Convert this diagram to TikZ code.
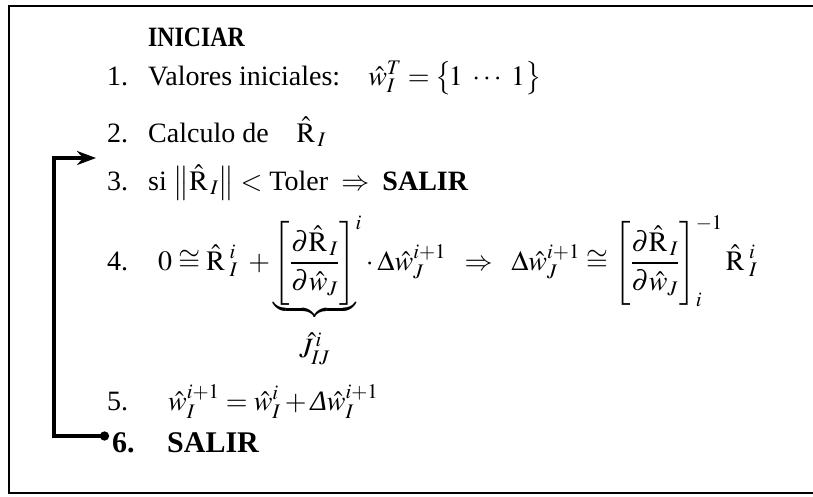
\documentclass[tikz,border=0pt]{standalone}
\usepackage{amsmath}
\usepackage{mathptmx}
\usepackage[no-math]{fontspec}
\setmainfont{Liberation Serif}
\newfontfamily\narrowbf{Liberation Serif}[FakeStretch=0.85]
\usetikzlibrary{arrows.meta}

\newcommand{\hR}{\hat{\mathrm{R}}}
\newcommand{\hw}{\hat{w}}
\newcommand{\stepno}[1]{\makebox[41pt][l]{#1}}

\begin{document}
\begin{tikzpicture}[
                x=1pt, y=-1pt,
                stepline/.style={anchor=base west, inner sep=0pt, font=\fontsize{28}{34}\selectfont},
                frame/.style={line width=2.5pt},
                loopback/.style={line width=4pt}
            ]
            \useasboundingbox (0,0) rectangle (813,496);
            % Frame (open on the right)
            \draw[frame] (813,6) -- (9,6) -- (9,493) -- (813,493);

            % Steps
            \node[stepline] (ini) at (148,46) {\narrowbf\bfseries INICIAR};
            \node[stepline] (s1) at (107,85) {\stepno{1.}Valores iniciales:\quad $\hw_I^{T}=\bigl\{\!1\;\cdots\;1\bigr\}$};
            \node[stepline] (s2) at (107,142) {\stepno{2.}Calculo de\quad $\hR_{\,I}$};
            \node[stepline] (s3) at (107,190) {\stepno{3.}si $\left\|\hR_{\,I}\right\| <$ Toler $\;\Rightarrow\;$ \textbf{SALIR}};
            \node[stepline] (s4) at (107,270) {\stepno{4.}\hspace{10pt}$\displaystyle 0\cong\hR_{\;I}^{\;i}\;+{\underbrace{\left[\frac{\partial\hR_{\,I}\rule[-5pt]{0pt}{0pt}}{\rule{0pt}{24pt}\partial\hw_J}\right]}_{\rule{0pt}{38pt}\textstyle\hat{J}_{IJ}^{\,i}}}^{i}\cdot\Delta\hw_J^{i+1}\;\;\Rightarrow\;\;\Delta\hw_J^{i+1}\cong\left[\frac{\partial\hR_{\,I}\rule[-5pt]{0pt}{0pt}}{\rule{0pt}{24pt}\partial\hw_J}\right]_i^{-1}\hR_{\;I}^{\;i}$};
            \node[stepline] (s5) at (107,410) {\stepno{5.}\hspace{20pt}$\hw_I^{i+1}=\hw_I^{i}+\mbox{\itshape Δ}\hw_I^{i+1}$};
            \node[stepline, font=\fontsize{30}{34}\selectfont] (s6) at (112,452) {\bfseries\makebox[55pt][l]{6.}SALIR};

            % Loop back from 6 to 3
            \draw[loopback, {Circle[length=9pt]}-{Stealth[length=19pt, width=14pt, inset=6pt]}]
                ([shift={(-3,-16)}]s6.base west) -- ++(-55,0) |- ([shift={(-11,-32)}]s3.base west);
\end{tikzpicture}
\end{document}
